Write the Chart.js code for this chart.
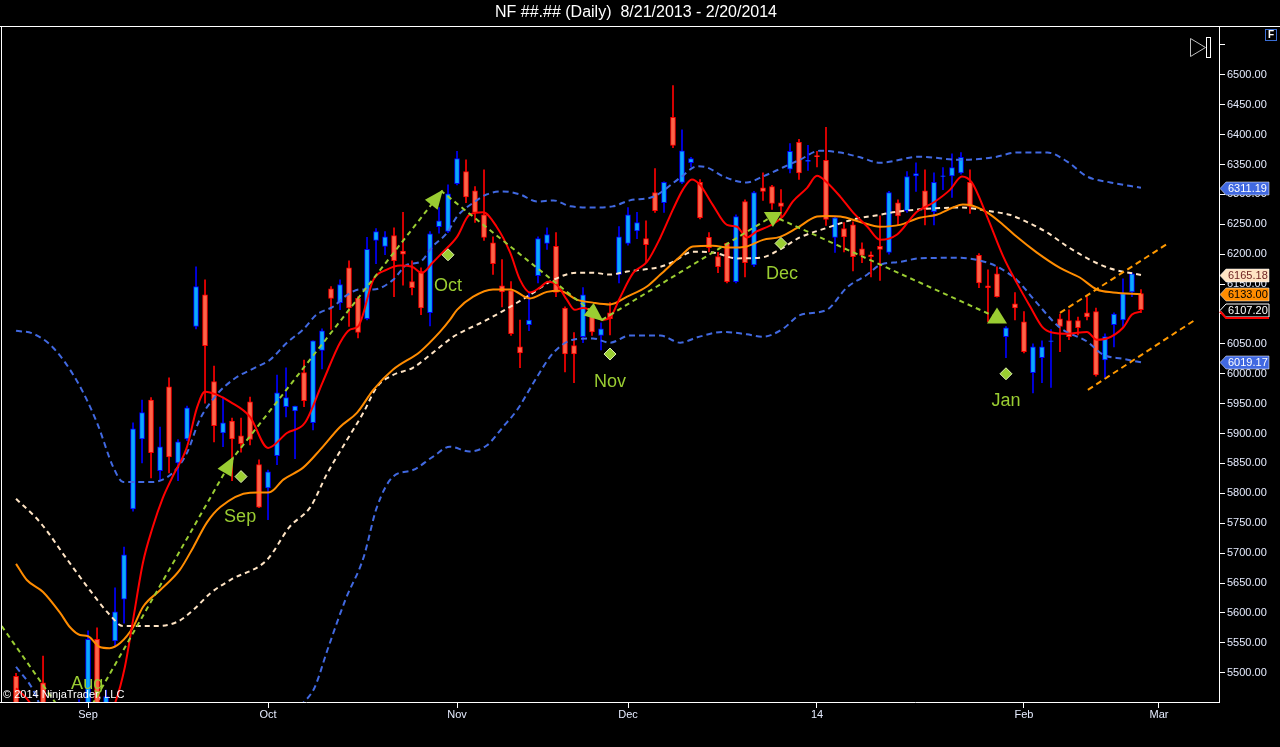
<!DOCTYPE html>
<html><head><meta charset="utf-8">
<script src="https://cdn.jsdelivr.net/npm/chart.js@4.4.0/dist/chart.umd.min.js"></script>
<style>html,body{margin:0;padding:0;background:#000;overflow:hidden}canvas{display:block}</style>
</head><body>
<canvas id="c" width="1280" height="747"></canvas>
<script>
const titleText = 'NF ##.## (Daily)  8/21/2013 - 2/20/2014';
// Daily bars, index 0 = 8/21/2013 ... index 125 = 2/20/2014
const opens = [5494,5380,5415,5483,5405,5290,5210,5370,5440,5556,
5400,5553,5623,5774,5891,5956,5838,5978,5851,5891,
6079,6132,5987,5901,5921,5896,5953,5848,5809,5863,
5945,5938,6002,5918,6039,6142,6119,6177,6126,6092,
6223,6213,6231,6205,6154,6171,6102,6246,6238,6318,
6338,6306,6266,6219,6147,6139,6045,6082,6164,6218,
6213,6110,6047,6062,6102,6064,6102,6166,6218,6239,
6226,6303,6286,6429,6320,6353,6320,6228,6196,6218,
6154,6288,6182,6311,6313,6286,6342,6387,6355,6365,
6357,6228,6243,6249,6209,6199,6213,6203,6286,6273,
6331,6306,6271,6330,6331,6336,6320,6198,6147,6167,
6062,6117,6087,6002,6027,6054,6092,6089,6089,6102,
6104,6023,6082,6090,6137,6134];
const highs = [5499,5430,5445,5528,5440,5330,5380,5455,5570,5575,
5471,5642,5710,5918,5956,5960,5911,5993,5890,5946,
6179,6157,6013,5961,5926,5926,5961,5856,5839,5998,
6010,5946,6023,6055,6075,6146,6157,6189,6129,6228,
6243,6238,6244,6270,6189,6177,6238,6278,6316,6372,
6358,6313,6341,6229,6191,6154,6090,6136,6229,6244,
6236,6112,6069,6144,6107,6085,6119,6246,6278,6270,
6256,6343,6321,6482,6408,6362,6325,6236,6203,6219,
6266,6291,6305,6336,6315,6308,6385,6392,6382,6372,
6412,6262,6253,6254,6219,6204,6264,6305,6291,6338,
6353,6341,6336,6345,6368,6370,6341,6201,6174,6179,
6079,6136,6104,6050,6055,6074,6100,6107,6095,6129,
6110,6067,6102,6159,6169,6141];
const lows = [5370,5330,5390,5395,5280,5150,5190,5360,5420,5380,
5380,5543,5583,5770,5851,5826,5823,5834,5821,5888,
6075,5951,5886,5878,5821,5869,5881,5776,5756,5848,
5928,5858,5945,5906,6008,6074,6107,6079,6060,6090,
6184,6199,6129,6148,6132,6099,6080,6235,6236,6316,
6286,6253,6223,6166,6112,6064,6010,6072,6152,6208,
6129,6003,5985,6052,6064,6040,6065,6152,6215,6226,
6187,6270,6270,6378,6318,6346,6259,6204,6169,6152,
6152,6162,6179,6290,6275,6263,6336,6325,6340,6346,
6248,6203,6204,6172,6186,6162,6156,6200,6249,6270,
6305,6249,6249,6308,6295,6334,6268,6144,6087,6128,
6027,6090,6035,5968,5985,5977,6037,6057,6065,6090,
5996,5993,6045,6079,6129,6102];
const closes = [5385,5415,5440,5410,5295,5200,5370,5440,5556,5400,
5460,5602,5697,5908,5935,5868,5878,5861,5886,5943,
6146,6047,5913,5918,5891,5883,5890,5777,5836,5968,
5960,5946,5955,6055,6072,6126,6149,6110,6069,6208,
6238,6229,6189,6200,6144,6110,6234,6256,6301,6360,
6296,6270,6228,6184,6137,6067,6035,6090,6226,6233,
6136,6033,6033,6132,6070,6075,6092,6229,6266,6253,
6216,6273,6320,6382,6373,6360,6261,6211,6179,6154,
6263,6186,6303,6305,6285,6280,6372,6336,6357,6363,
6258,6261,6229,6196,6198,6196,6208,6303,6264,6330,
6335,6275,6320,6331,6345,6362,6280,6152,6144,6129,
6077,6110,6037,6045,6045,6055,6079,6062,6077,6095,
5998,6062,6100,6134,6167,6107.2];

// Indicator lines: [bar index, price]
const upperBand = [[0,6072],[1.9,6067],[4.1,6044],[6.8,5987],[9,5918],[10.8,5844],[11.9,5819],[15.1,5819],[17.4,5834],[19,5868],[20.4,5923],[22.3,5965],[24.1,5990],[26.8,6012],[28.2,6023],[30.1,6052],[31.9,6074],[33.4,6099],[35.2,6112],[36.8,6132],[38.2,6141],[39.7,6141],[41.9,6157],[43.4,6182],[44.9,6187],[46.3,6213],[47.9,6236],[49,6263],[50.8,6286],[52.3,6300],[54.1,6305],[56,6300],[57.9,6288],[59.7,6290],[61.6,6280],[64.1,6278],[66.3,6280],[68.2,6290],[70.8,6296],[73.8,6328],[75.7,6347],[76.8,6345],[78.6,6330],[81.2,6320],[83,6330],[85.2,6345],[87.1,6358],[89.3,6373],[91.6,6370],[93.8,6362],[96,6353],[100.4,6363],[104.9,6358],[108.6,6362],[111.2,6370],[114.6,6370],[116.8,6355],[119,6330],[121.6,6320],[125,6311.19]];
const middleBand = [[0,5791],[2.7,5751],[5.7,5689],[8.2,5638],[10.4,5597],[11.9,5578],[15.2,5578],[17.9,5585],[19.7,5605],[21.6,5633],[23.8,5655],[27.9,5689],[30.4,5744],[32.7,5777],[34.6,5834],[36.8,5890],[38.6,5935],[40.1,5978],[41.9,5998],[44.1,6010],[46.3,6035],[48.6,6062],[52.3,6090],[54.9,6112],[57.1,6132],[59.7,6157],[62.3,6169],[64.1,6169],[66,6166],[67.9,6171],[71.6,6179],[73,6187],[75.2,6204],[77.4,6203],[80.1,6193],[82.7,6194],[84.9,6208],[87.1,6228],[90.1,6244],[93,6258],[96,6266],[97.4,6270],[100.4,6275],[104.9,6278],[108.6,6271],[110.4,6266],[112.3,6254],[114.6,6236],[116.8,6213],[119.3,6191],[121.6,6176],[125,6165.18]];
const lowerBand = [[0,5510],[1.9,5471],[4,5396],[6.8,5349],[9,5322],[11.9,5337],[15.1,5337],[17.4,5334],[19,5328],[20.4,5307],[22.3,5315],[24.1,5326],[26.8,5348],[28.2,5363],[30.1,5428],[32.2,5454],[33.2,5476],[34.6,5538],[36.6,5622],[38.6,5692],[40.1,5777],[41.9,5828],[44.1,5839],[46.3,5861],[48.2,5878],[50.4,5870],[52.3,5880],[54.1,5911],[55.7,5940],[57.9,5995],[59.7,6035],[61.9,6057],[64.1,6059],[66,6052],[68.2,6064],[71.6,6064],[73.8,6052],[75.7,6061],[78.6,6070],[81.2,6066],[83,6062],[85.2,6075],[87.1,6098],[90.1,6107],[92.3,6144],[94.6,6166],[96,6182],[98.2,6187],[100.4,6193],[104.9,6194],[107.9,6186],[109.3,6177],[111.2,6157],[113.4,6119],[116,6077],[119,6054],[120.8,6032],[123,6025],[125,6019.17]];
const orangeLine = [[0,5682],[1.2,5655],[3,5635],[4.9,5600],[6,5576],[7.1,5563],[8,5561],[9.3,5543],[10.4,5541],[11.6,5550],[13,5576],[14.1,5610],[16,5638],[18.2,5672],[19.7,5710],[21.2,5751],[22.7,5777],[26,5801],[28.2,5802],[29.7,5823],[31.9,5843],[33.8,5873],[36,5911],[37.9,5935],[39.7,5973],[41.9,6007],[44.9,6037],[47.1,6070],[48.2,6090],[49,6107],[50.8,6129],[53,6141],[54.9,6141],[57.1,6126],[59,6137],[60.4,6139],[62.3,6124],[64.1,6119],[66,6116],[67.9,6129],[70.1,6146],[71.6,6166],[73.8,6196],[75.2,6213],[77.4,6214],[79.3,6211],[81.2,6213],[83,6224],[84.9,6229],[86.8,6244],[89,6263],[90.1,6264],[91.6,6263],[93.8,6254],[96,6246],[98.2,6249],[100.4,6261],[102.3,6266],[104.1,6278],[105.2,6283],[106.3,6281],[107.9,6270],[109.7,6249],[111.2,6229],[113.4,6203],[116,6177],[118.2,6161],[120.1,6141],[121.9,6136],[125,6133]];
const redLine = [[0,5474],[1,5460],[2,5445],[3,5445],[4,5400],[5,5330],[6,5320],[7,5350],[8,5410],[9,5405],[10,5420],[11,5449],[12.1,5510],[13,5588],[14.1,5684],[15.2,5744],[16.3,5792],[17.4,5828],[19,5878],[20.1,5943],[21,5970],[22.3,5965],[23.8,5953],[26,5928],[28,5876],[30.1,5901],[32.1,5918],[34.1,5987],[36,6052],[37.1,6074],[38,6079],[39.7,6157],[41.2,6174],[42.7,6181],[44,6179],[45.1,6169],[46.3,6186],[47.4,6203],[49,6229],[50.4,6266],[51.9,6270],[53.4,6246],[54.9,6203],[56,6157],[57.1,6136],[58.2,6144],[59.1,6154],[60.1,6149],[61.2,6124],[62.1,6107],[63,6110],[64.1,6104],[65.1,6090],[66,6094],[67.1,6127],[68.6,6169],[70.1,6187],[71.6,6228],[73,6275],[74.1,6308],[75.1,6325],[76,6316],[77.4,6283],[79,6249],[80.1,6246],[81.2,6228],[82.3,6238],[83.8,6248],[85.2,6263],[86.3,6288],[87.9,6311],[89,6331],[90.1,6320],[91.6,6296],[93,6270],[94.6,6246],[96,6224],[97.9,6233],[100.1,6271],[101.9,6286],[103.8,6308],[105.1,6330],[106.2,6320],[107.9,6263],[109.7,6196],[111.2,6152],[112.7,6112],[114,6079],[115.1,6069],[116.8,6067],[119,6070],[120.1,6057],[121.2,6059],[123,6077],[124,6099],[125,6104]];

// Drawing objects (bar index, price)
const zigzag = [[-1.6,5578],[6.7,5400],[24.1,5859],[47.3,6305],[65.1,6090],[84.1,6264],[109,6094]];
const arrowKinds = ['along','along','along','down','up'];
const channelUpper = [[116,6102],[128,6218]];
const channelLower = [[119.1,5973],[131,6090]];
const waveLabels = ['Aug','Sep','Oct','Nov','Dec','Jan'];
const waveLabelIdx = [7.9,24.9,48,66,85.1,110];
const waveLabelPrice = [5481,5761,6146,5987,6167,5955];
const diamondIdx = [25,48,66,85,110];
const diamondPrice = [5828,6199,6033,6218,6000];

// Axis ticks
const xTickIdx = [8,28,49,68,89,112,127];
const xTickLabels = ['Sep','Oct','Nov','Dec','14','Feb','Mar'];
const yTicks = [5500,5550,5600,5650,5700,5750,5800,5850,5900,5950,6000,6050,6100,6150,6200,6250,6300,6350,6400,6450,6500,6550];
const tagValues = [6311.19,6165.18,6133.00,6107.20,6019.17];
const tagFill = ['#4169E1','#FFE4C4','#FF8C00','#000000','#4169E1'];
const tagText = ['#ffffff','#6b1f1f','#000000','#ffffff','#ffffff'];

const FONT = "'Liberation Sans', Arial, sans-serif";
Chart.defaults.font.family = FONT;

const pts = arr => arr.map(p => ({x: p[0], y: p[1]}));
const up = opens.map((o,i) => closes[i] >= o);

const lineDs = (data, color, dash, order, width) => ({
  type: 'line', data: pts(data), borderColor: color, borderWidth: width || 2,
  borderDash: dash || [], pointRadius: 0, fill: false, order: order,
  cubicInterpolationMode: 'monotone'
});

const decor = {
  id: 'decor',
  beforeDraw(chart) {
    const c = chart.ctx; c.save(); c.fillStyle = '#000'; c.fillRect(0,0,chart.width,chart.height); c.restore();
  },
  afterDatasetsDraw(chart) {
    const c = chart.ctx, a = chart.chartArea, xs = chart.scales.x, ys = chart.scales.y;
    const P = (i,p) => [xs.getPixelForValue(i), ys.getPixelForValue(p)];
    c.save();
    c.beginPath(); c.rect(a.left, a.top, a.right - a.left, a.bottom - a.top); c.clip();
    // arrowheads on zigzag
    c.fillStyle = '#9ACD32';
    for (let k = 2; k < zigzag.length; k++) {
      const [x0,y0] = P(zigzag[k-1][0], zigzag[k-1][1]);
      const [x1,y1] = P(zigzag[k][0], zigzag[k][1]);
      const kind = arrowKinds[k-2];
      c.beginPath();
      if (kind === 'along') {
        const L = Math.hypot(x1-x0,y1-y0), dx=(x1-x0)/L, dy=(y1-y0)/L;
        const bx = x1 - dx*17, by = y1 - dy*17;
        c.moveTo(x1 + dx*2, y1 + dy*2);
        c.lineTo(bx - dy*8, by + dx*8);
        c.lineTo(bx + dy*8, by - dx*8);
      } else if (kind === 'down') {
        c.moveTo(x1-9, y1-4); c.lineTo(x1+9, y1-4); c.lineTo(x1, y1+11);
      } else {
        c.moveTo(x1, y1-10); c.lineTo(x1-10, y1+6); c.lineTo(x1+10, y1+6);
      }
      c.closePath(); c.fill();
    }
    // diamonds
    for (let k = 0; k < diamondIdx.length; k++) {
      const [x,y] = P(diamondIdx[k], diamondPrice[k]);
      c.beginPath(); c.moveTo(x, y-6); c.lineTo(x+6, y); c.lineTo(x, y+6); c.lineTo(x-6, y); c.closePath();
      c.fillStyle = '#9ACD32'; c.fill(); c.strokeStyle = '#dff2b0'; c.lineWidth = 1; c.stroke();
    }
    // wave labels
    c.fillStyle = '#9ACD32'; c.font = '18px ' + FONT; c.textAlign = 'center'; c.textBaseline = 'middle';
    for (let k = 0; k < waveLabels.length; k++) {
      const [x,y] = P(waveLabelIdx[k], waveLabelPrice[k]);
      c.fillText(waveLabels[k], x, y);
    }
    // copyright
    c.fillStyle = '#ffffff'; c.font = '11px ' + FONT; c.textAlign = 'left';
    c.fillText('\u00A9 2014 NinjaTrader, LLC', 3, a.bottom - 7);
    c.restore();
  },
  afterDraw(chart) {
    const c = chart.ctx, a = chart.chartArea, ys = chart.scales.y;
    c.save();
    // frame
    c.fillStyle = '#ffffff';
    c.fillRect(0, a.top - 1, chart.width, 1);
    c.fillRect(1, a.top, 1, a.bottom - a.top);
    c.fillRect(0, a.bottom, a.left + 1, 1);
    // title
    c.font = '16px ' + FONT; c.textAlign = 'center'; c.textBaseline = 'middle';
    c.fillText(titleText, 636, 13);
    // right-side price tags
    c.font = '11px ' + FONT; c.textAlign = 'left';
    for (let k = 0; k < tagValues.length; k++) {
      const y = Math.round(ys.getPixelForValue(tagValues[k])) + 0.5;
      const x0 = a.right + 1, x1 = a.right + 7, x2 = a.right + 50;
      c.beginPath();
      c.moveTo(x0, y); c.lineTo(x1, y - 6.5); c.lineTo(x2, y - 6.5); c.lineTo(x2, y + 6.5); c.lineTo(x1, y + 6.5); c.closePath();
      c.fillStyle = tagFill[k]; c.fill();
      if (tagFill[k] === '#000000') {
        c.strokeStyle = '#ffffff'; c.lineWidth = 1; c.stroke();
        c.beginPath(); c.moveTo(x0, y + 1); c.lineTo(x1, y + 7.5); c.lineTo(x2, y + 7.5);
        c.strokeStyle = '#ff0000'; c.lineWidth = 2; c.stroke();
      } else {
        c.strokeStyle = 'rgba(255,255,255,0.5)'; c.lineWidth = 1; c.stroke();
      }
      c.fillStyle = tagText[k];
      c.fillText(tagValues[k].toFixed(2), x1 + 2, y + 0.5);
    }
    // toolbar icons
    c.strokeStyle = '#bdbdbd'; c.lineWidth = 1;
    c.beginPath(); c.moveTo(1190.5, 38.5); c.lineTo(1205.5, 47.5); c.lineTo(1190.5, 56.5); c.closePath(); c.stroke();
    c.strokeStyle = '#ffffff';
    c.strokeRect(1206.5, 37.5, 4, 20);
    c.strokeStyle = '#3b6fd6'; c.strokeRect(1265.5, 29.5, 11, 11);
    c.fillStyle = '#ffffff'; c.font = 'bold 10px ' + FONT; c.textAlign = 'center';
    c.fillText('F', 1271, 35.5);
    c.restore();
  }
};

new Chart(document.getElementById('c'), {
  type: 'bar',
  data: {
    datasets: [
      { type: 'line', data: pts(zigzag), borderColor: '#9ACD32', borderWidth: 2, borderDash: [5,4], pointRadius: 0, tension: 0, order: 0 },
      { type: 'line', data: pts(channelUpper), borderColor: '#FF9900', borderWidth: 2, borderDash: [6,4], pointRadius: 0, tension: 0, order: 0 },
      { type: 'line', data: pts(channelLower), borderColor: '#FF9900', borderWidth: 2, borderDash: [6,4], pointRadius: 0, tension: 0, order: 0 },
      lineDs(redLine, '#FF0000', [], 1),
      lineDs(orangeLine, '#FF8C00', [], 2),
      lineDs(middleBand, '#FFE4C4', [5,4], 3),
      lineDs(upperBand, '#4169E1', [6,4], 4),
      lineDs(lowerBand, '#4169E1', [6,4], 4),
      { type: 'bar', data: opens.map((o,i) => ({x: i, y: [o, closes[i]]})),
        backgroundColor: up.map(u => u ? '#0AAAFF' : '#FF6347'),
        borderColor: up.map(u => u ? '#0000FF' : '#FF0000'),
        borderWidth: 1, borderSkipped: false, barThickness: 5, grouped: false, order: 10 },
      { type: 'bar', data: opens.map((o,i) => ({x: i, y: [lows[i], highs[i]]})),
        backgroundColor: up.map(u => u ? '#0000FF' : '#FF0000'),
        borderWidth: 0, barThickness: 1, grouped: false, order: 11 }
    ]
  },
  options: {
    responsive: false, animation: false,
    layout: { padding: { left: 2, top: 27, right: 0, bottom: 0 } },
    plugins: { legend: { display: false }, tooltip: { enabled: false }, title: { display: false } },
    scales: {
      x: {
        type: 'linear', min: -1.56, max: 133.67, offset: false,
        afterBuildTicks: s => { s.ticks = xTickIdx.map(v => ({ value: v })); },
        afterFit: s => { s.height = 45; },
        ticks: { autoSkip: false, maxRotation: 0, padding: 0, color: '#e6ecff', font: { size: 11 },
                 callback: v => { const k = xTickIdx.indexOf(v); return k >= 0 ? xTickLabels[k] : ''; } },
        grid: { display: true, offset: false, drawOnChartArea: false, drawTicks: true, tickLength: 6, color: '#ffffff' },
        border: { display: true, color: '#ffffff', width: 1 }
      },
      y: {
        type: 'linear', position: 'right', min: 5451, max: 6580,
        afterBuildTicks: s => { s.ticks = yTicks.map(v => ({ value: v })); },
        afterFit: s => { s.width = 61; },
        ticks: { padding: 2, color: '#e6ecff', font: { size: 11 },
                 callback: v => v === 6550 ? '' : Number(v).toFixed(2) },
        grid: { display: true, offset: false, drawOnChartArea: false, drawTicks: true, tickLength: 6, color: '#ffffff' },
        border: { display: true, color: '#ffffff', width: 1 }
      }
    }
  },
  plugins: [decor]
});
</script>
</body></html>
